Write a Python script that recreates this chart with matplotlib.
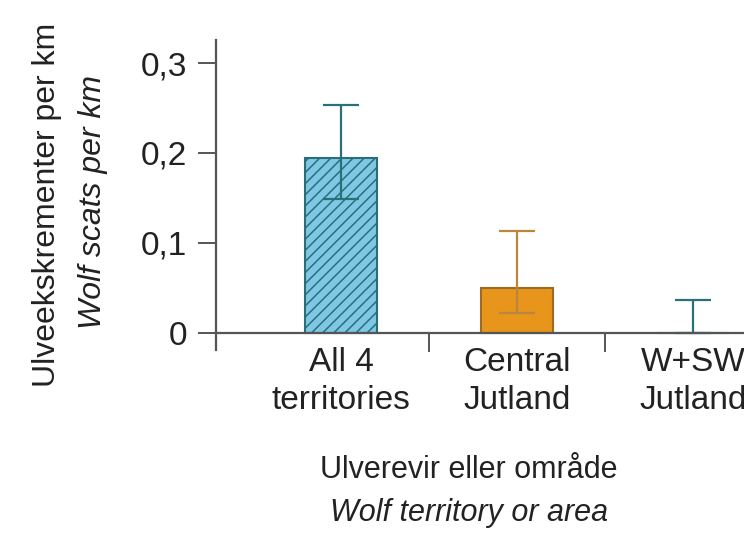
import matplotlib
matplotlib.use("Agg")
import matplotlib.pyplot as plt

plt.rcParams['font.family'] = ['Liberation Sans', 'DejaVu Sans']
plt.rcParams['hatch.color'] = '#1d5a66'
plt.rcParams['hatch.linewidth'] = 1.1

# Data
categories = ["All 4\nterritories", "Central\nJutland", "W+SW\nJutland"]
values = [0.194, 0.050, 0.0]
err_low = [0.149, 0.022, 0.0]
err_high = [0.253, 0.113, 0.037]
yticks = [0, 0.1, 0.2, 0.3]
ytick_labels = ["0", "0,1", "0,2", "0,3"]

fill_colors = ["#7ec8e6", "#e8951c", "#7ec8e6"]
edge_colors = ["#2a6f78", "#9c6a20", "#2a6f78"]
err_colors = ["#2a7078", "#b8863c", "#2a7078"]
hatches = ["///", "", ""]
axis_color = "#555555"
text_color = "#222222"

fig = plt.figure(figsize=(7.44, 5.34), dpi=100)
ax = fig.add_axes([216 / 744, (534 - 350) / 534, 1 - 216 / 744, (350 - 40) / 534])

x = list(range(len(categories)))
for i in x:
    ax.bar(i, values[i], width=0.41, color=fill_colors[i], edgecolor=edge_colors[i],
           linewidth=1.5, hatch=hatches[i], zorder=2)
    lo = values[i] - err_low[i]
    hi = err_high[i] - values[i]
    ax.errorbar(i, values[i], yerr=[[lo], [hi]], fmt='none', ecolor=err_colors[i],
                elinewidth=1.6, capsize=13, capthick=1.6, zorder=3)

for s in ["top", "right"]:
    ax.spines[s].set_visible(False)
ax.spines["bottom"].set_position(("data", 0))
for s in ["left", "bottom"]:
    ax.spines[s].set_color(axis_color)
    ax.spines[s].set_linewidth(1.6)
    ax.spines[s].set_zorder(4)

ax.set_yticks(yticks)
ax.set_yticklabels(ytick_labels)
ax.tick_params(axis='y', direction='out', length=13, width=1.4, color=axis_color,
               labelsize=24, pad=8, labelcolor=text_color)

# boundaries as major ticks, category names as minor ticks
ax.set_xticks([0.5, 1.5, 2.5])
ax.set_xticklabels([])
ax.set_xticks(x, minor=True)
ax.set_xticklabels(categories, minor=True, linespacing=1.32)
ax.tick_params(axis='x', which='major', direction='out', length=14, width=1.4, color=axis_color)
ax.tick_params(axis='x', which='minor', length=0, labelsize=24, pad=10, labelcolor=text_color)

# limits last, set_xticks would widen them
ax.set_xlim(-0.71, 2.29)
ax.set_ylim(-0.019, 0.3256)

fig.text(47 / 744, 1 - 205 / 534, "Ulveekskrementer per km", rotation=90,
         ha='center', va='center', fontsize=23, color=text_color)
fig.text(93 / 744, 1 - 202 / 534, "Wolf scats per km", rotation=90, style='italic',
         ha='center', va='center', fontsize=23, color=text_color)
fig.text(469 / 744, 1 - 470 / 534, "Ulverevir eller område",
         ha='center', va='center', fontsize=22, color=text_color)
fig.text(469 / 744, 1 - 513 / 534, "Wolf territory or area", style='italic',
         ha='center', va='center', fontsize=22, color=text_color)

fig.savefig("out.png", dpi=100)
